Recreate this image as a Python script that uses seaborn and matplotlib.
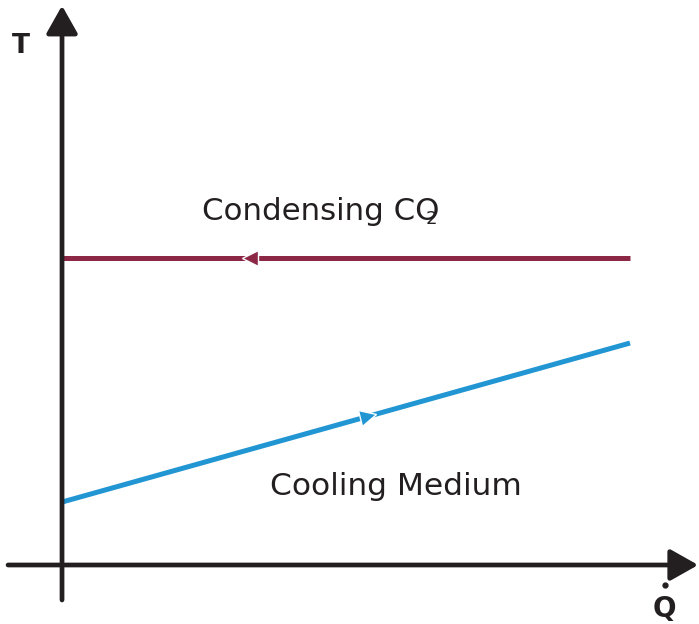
import numpy as np
import pandas as pd
import seaborn as sns
import matplotlib.pyplot as plt
from matplotlib.markers import MarkerStyle
from matplotlib.transforms import Affine2D

# heat duty (Q) and temperature (T) in arbitrary units
heat = [0.0, 10.0]
t_condensing = [10.0, 10.0]
t_cooling = [2.05, 7.23]
streams = ["Condensing CO2", "Cooling Medium"]

maroon = "#8c2846"
blue = "#2196d3"
ink = "#231f20"

sns.set_theme(style="white")
plt.rcParams["font.family"] = ["DejaVu Sans"]

fig = plt.figure(figsize=(6.99, 6.24), dpi=100)
ax = fig.add_axes([0, 0, 1, 1])

df = pd.DataFrame({
    "Q": heat * 2,
    "T": t_condensing + t_cooling,
    "stream": [streams[0]] * 2 + [streams[1]] * 2,
})
sns.lineplot(data=df, x="Q", y="T", hue="stream",
             palette={streams[0]: maroon, streams[1]: blue},
             lw=3.6, legend=False, ax=ax, solid_capstyle="butt")

ax.set_xlim(-1.092, 11.215)
ax.set_ylim(-1.922, 18.404)
ax.axis("off")

# axes with arrow heads
arr = dict(arrowstyle="-|>,head_length=0.85,head_width=0.48", color=ink,
           lw=3.4, mutation_scale=20, shrinkA=0, shrinkB=0)
ax.annotate("", xy=(0, 18.22), xytext=(0, -1.14), arrowprops=arr)
ax.annotate("", xy=(11.2, 0), xytext=(-0.95, 0), arrowprops=arr)

# direction markers on each stream
fig.canvas.draw()
def flow_marker(ts, frac, sym, color):
    q = heat[0] + frac * (heat[1] - heat[0])
    t = ts[0] + frac * (ts[1] - ts[0])
    p0 = ax.transData.transform((heat[0], ts[0]))
    p1 = ax.transData.transform((heat[1], ts[1]))
    ang = np.degrees(np.arctan2(p1[1] - p0[1], p1[0] - p0[0]))
    m = MarkerStyle(sym, transform=Affine2D().rotate_deg(ang))
    ax.plot([q], [t], marker=m, ms=12, color=color, mec="white", mew=1.0,
            ls="none")

flow_marker(t_condensing, 0.331, "<", maroon)
flow_marker(t_cooling, 0.539, ">", blue)

# labels
ax.text(2.465, 11.24, "Condensing CO", fontsize=22.2, color=ink, va="baseline")
ax.text(6.4, 11.1, "2", fontsize=13, color=ink, va="baseline")
ax.text(3.66, 2.28, "Cooling Medium", fontsize=22.5, color=ink, va="baseline")
ax.text(-0.88, 16.68, "T", fontsize=19, fontweight="bold", color=ink,
        va="baseline")
ax.text(10.4, -1.68, "Q", fontsize=20, fontweight="bold", color=ink,
        va="baseline")
ax.plot([10.62], [-0.65], "o", ms=3.5, color=ink)

fig.savefig("out.png", dpi=100)
